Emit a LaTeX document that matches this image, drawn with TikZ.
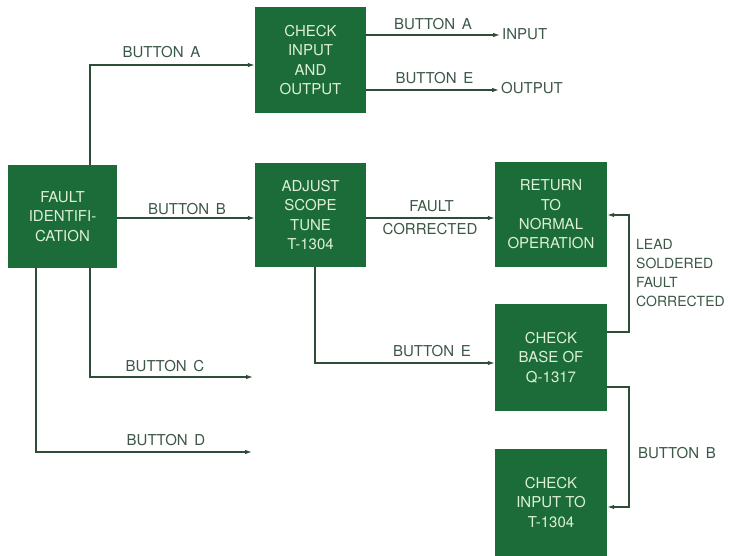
\documentclass[tikz,border=0pt]{standalone}
\usepackage{fontspec}
\setmainfont{TeX Gyre Heros}
\usetikzlibrary{arrows.meta}
\definecolor{boxg}{HTML}{1C6C3A}
\definecolor{boxtxt}{HTML}{DDF0D6}
\definecolor{labg}{HTML}{3B5746}
\definecolor{lineg}{HTML}{2D4D38}
\tikzset{
  stepbox/.style={fill=boxg, draw=none, text=boxtxt, align=center, inner sep=0pt,
    font=\fontsize{15}{19.3}\selectfont},
  lab/.style={text=labg, inner sep=0pt, font=\fontsize{15}{19}\selectfont},
  conn/.style={draw=lineg, line width=1.2pt},
  arr/.style={conn, -{Latex[length=7pt,width=4.5pt]}}
}
\newcommand{\bsp}{\hspace{0.45em}}
\begin{document}
\begin{tikzpicture}[x=1pt,y=-1pt]
\useasboundingbox (0,0) rectangle (730,556);
\fill[white] (0,0) rectangle (730,556);
% boxes
\node[stepbox, minimum width=109pt, minimum height=103pt] (fault) at (62.5,216.5) {FAULT\\IDENTIFI-\\CATION};
\node[stepbox, minimum width=111pt, minimum height=106pt] (chk) at (310.5,60) {CHECK\\INPUT\\AND\\OUTPUT};
\node[stepbox, minimum width=111pt, minimum height=104pt] (adj) at (310.5,215) {ADJUST\\SCOPE\\TUNE\\T-1304};
\node[stepbox, minimum width=112pt, minimum height=105pt] (ret) at (551,214.5) {RETURN\\TO\\NORMAL\\OPERATION};
\node[stepbox, minimum width=112pt, minimum height=107pt] (base) at (551,357.5) {CHECK\\BASE OF\\Q-1317};
\node[stepbox, minimum width=112pt, minimum height=107pt] (inp) at (551,502.5) {CHECK\\INPUT TO\\T-1304};
% end texts
\node[lab, anchor=west, inner sep=2pt] (intxt) at (500,34) {INPUT};
\node[lab, anchor=west, inner sep=2pt] (outtxt) at (499,88) {OUTPUT};
\coordinate (cC) at (253,377);
\coordinate (cD) at (252,452);
% connectors
\draw[arr] ([xshift=27.5pt]fault.north) |- (chk.west |- 0,65);
\draw[arr] (fault.east |- 0,218) -- (adj.west |- 0,218);
\draw[arr] ([xshift=27.5pt]fault.south) |- (cC);
\draw[arr] ([xshift=-26.5pt]fault.south) |- (cD);
\draw[arr] (chk.east |- 0,35) -- (intxt.west |- 0,35);
\draw[arr] (chk.east |- 0,90) -- (outtxt.west |- 0,90);
\draw[arr] (adj.east |- 0,218) -- (ret.west |- 0,218);
\draw[arr] ([xshift=4.5pt]adj.south) |- (base.west |- 0,363);
\draw[arr] (base.east |- 0,332) -| (629,215) -- (ret.east |- 0,215);
\draw[arr] (base.east |- 0,387) -| (629,507) -- (inp.east |- 0,507);
% labels
\node[lab] (lA) at (161.5,52.5) {BUTTON\bsp A};
\node[lab] (lB) at (187,209) {BUTTON\bsp B};
\node[lab] (lC) at (165,366) {BUTTON\bsp C};
\node[lab] (lD) at (166,440) {BUTTON\bsp D};
\node[lab] (lA2) at (433,24) {BUTTON\bsp A};
\node[lab] (lE2) at (434.5,78.5) {BUTTON\bsp E};
\node[lab] (lF) at (431.5,206) {FAULT};
\node[lab] (lCo) at (430,229.5) {CORRECTED};
\node[lab] (lE) at (432,351) {BUTTON\bsp E};
\node[lab, anchor=west, align=left, font=\fontsize{14}{18.8}\selectfont] (lLead) at (636,273) {LEAD\\SOLDERED\\FAULT\\CORRECTED};
\node[lab] (lB2) at (677,453) {BUTTON\bsp B};
\end{tikzpicture}
\end{document}
